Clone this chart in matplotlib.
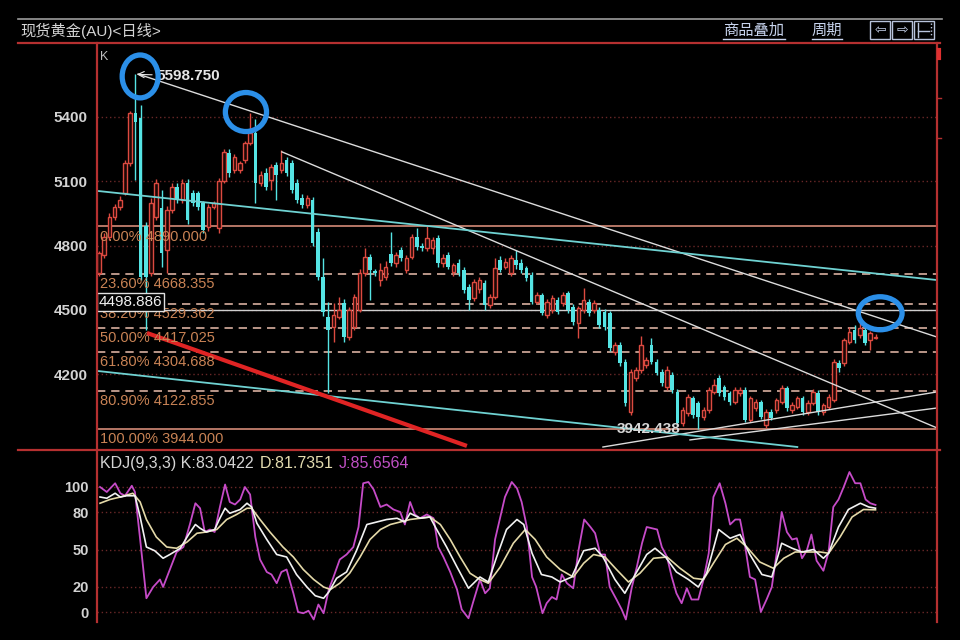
import numpy as np
import matplotlib.pyplot as plt
from matplotlib.lines import Line2D
from matplotlib.patches import Ellipse, Rectangle

plt.rcParams['font.family'] = ['Liberation Sans', 'Noto Sans CJK SC', 'DejaVu Sans']

#==============================================================================
# daily candles of spot gold
#==============================================================================
opens = [4672, 4756, 4840, 4933, 4980, 5045, 5185, 5419, 5395, 4890,
         4672, 4933, 4975, 4779, 4966, 5073, 5013, 5092, 5045, 5045,
         4999, 4887, 4980, 4880, 5100, 5232, 5153, 5153, 5199, 5279,
         5325, 5092, 5139, 5106, 5176, 5153, 5199, 5185, 5092, 5022,
         4989, 5013, 4863, 4653, 4467, 4420, 4467, 4532, 4373, 4420,
         4499, 4672, 4747, 4680, 4639, 4653, 4760, 4719, 4779, 4686,
         4747, 4840, 4800, 4789, 4789, 4835, 4719, 4756, 4677, 4719,
         4686, 4607, 4555, 4595, 4625, 4523, 4560, 4733, 4700, 4672,
         4733, 4719, 4695, 4663, 4537, 4569, 4476, 4499, 4546, 4532,
         4579, 4513, 4439, 4499, 4537, 4499, 4499, 4490, 4485, 4303,
         4336, 4257, 4023, 4182, 4219, 4243, 4336, 4257, 4210, 4140,
         4196, 4117, 3972, 4019, 4089, 4065, 4000, 4033, 4117, 4182,
         4140, 4112, 4070, 4112, 4126, 3986, 4042, 4070, 3963, 4023,
         4033, 4070, 4135, 4033, 4047, 4089, 4023, 4065, 4112, 4023,
         4047, 4079, 4252, 4252, 4350, 4406, 4383, 4406, 4360, 4370]
highs = [4775, 4860, 4950, 4995, 5030, 5200, 5430, 5598.75, 5456, 4910,
         5020, 5110, 5060, 4985, 5090, 5090, 5110, 5110, 5060, 5055,
         5010, 4995, 5010, 5115, 5250, 5250, 5225, 5195, 5290, 5419,
         5390, 5150, 5160, 5180, 5190, 5246, 5215, 5200, 5110, 5040,
         5035, 5025, 4880, 4742, 4537, 4530, 4560, 4550, 4515, 4575,
         4690, 4790, 4760, 4690, 4720, 4730, 4863, 4770, 4795, 4755,
         4855, 4880, 4810, 4890, 4840, 4850, 4760, 4770, 4720, 4735,
         4700, 4620, 4645, 4655, 4640, 4575, 4740, 4750, 4740, 4755,
         4779, 4735, 4705, 4675, 4585, 4580, 4550, 4570, 4560, 4585,
         4590, 4525, 4520, 4600, 4550, 4545, 4515, 4505, 4495, 4350,
         4350, 4270, 4225, 4235, 4380, 4280, 4370, 4270, 4225, 4240,
         4210, 4130, 4045, 4105, 4100, 4075, 4045, 4140, 4175, 4195,
         4150, 4120, 4140, 4140, 4140, 4100, 4085, 4080, 4035, 4035,
         4090, 4150, 4145, 4070, 4100, 4100, 4080, 4130, 4125, 4065,
         4105, 4270, 4265, 4370, 4420, 4430, 4440, 4420, 4400, 4385]
lows = [4660, 4740, 4825, 4920, 4965, 5035, 5170, 5106, 4640, 4405,
        4660, 4920, 4700, 4672, 4950, 5000, 5000, 4900, 4985, 4965,
        4860, 4870, 4970, 4860, 5090, 5120, 5140, 5140, 5185, 5270,
        4999, 5080, 5060, 5060, 5013, 5140, 5125, 5045, 5000, 4975,
        4975, 4800, 4640, 4470, 4112, 4350, 4455, 4350, 4360, 4405,
        4490, 4660, 4546, 4660, 4610, 4640, 4705, 4700, 4730, 4670,
        4735, 4780, 4775, 4775, 4760, 4700, 4700, 4690, 4660, 4660,
        4580, 4499, 4540, 4580, 4499, 4510, 4550, 4675, 4690, 4660,
        4690, 4670, 4635, 4525, 4525, 4475, 4460, 4485, 4480, 4520,
        4485, 4430, 4369, 4485, 4470, 4485, 4415, 4405, 4310, 4290,
        4240, 4050, 4010, 4170, 4205, 4230, 4245, 4195, 4145, 4125,
        4110, 3960, 3960, 4005, 3995, 3942.438, 3985, 4020, 4105, 4100,
        4080, 4055, 4060, 4100, 3975, 3975, 4030, 3990, 3950, 3985,
        4020, 4060, 4030, 4020, 4035, 4010, 4010, 4055, 4010, 4010,
        4035, 4070, 4210, 4240, 4340, 4345, 4370, 4335, 4313, 4365]
closes = [4765, 4840, 4933, 4980, 5013, 5185, 5419, 5377, 4653, 4655,
          4999, 5092, 4765, 4966, 5073, 5013, 5092, 4919, 4999, 4980,
          4873, 4980, 4999, 5100, 5235, 5139, 5213, 5185, 5279, 5325,
          5092, 5129, 5073, 5167, 5129, 5185, 5139, 5059, 5013, 4989,
          5020, 4812, 4653, 4490, 4406, 4476, 4499, 4373, 4499, 4560,
          4672, 4747, 4686, 4672, 4686, 4700, 4720, 4756, 4742, 4742,
          4840, 4793, 4789, 4835, 4826, 4719, 4742, 4700, 4709, 4672,
          4593, 4546, 4630, 4639, 4523, 4560, 4695, 4686, 4725, 4742,
          4709, 4686, 4649, 4537, 4569, 4485, 4537, 4555, 4490, 4569,
          4499, 4443, 4509, 4546, 4485, 4532, 4429, 4420, 4322, 4336,
          4252, 4065, 4210, 4219, 4336, 4266, 4257, 4205, 4159, 4219,
          4126, 3972, 4033, 4093, 4009, 4000, 4033, 4126, 4149, 4112,
          4093, 4070, 4126, 4126, 3986, 4089, 4070, 4000, 4023, 3995,
          4079, 4135, 4042, 4056, 4089, 4023, 4065, 4117, 4023, 4056,
          4093, 4257, 4229, 4359, 4397, 4359, 4415, 4345, 4390, 4375]

price_ticks = [4200, 4500, 4800, 5100, 5400]

# fibonacci retracement levels
fib_pct = ['0.00%', '23.60%', '38.20%', '50.00%', '61.80%', '80.90%', '100.00%']
fib_val = [4890.000, 4668.355, 4529.362, 4417.025, 4304.688, 4122.855, 3944.000]
price_line = 4498.886
peak_label = '5598.750'
low_label = '3942.438'

# hand-drawn trend lines: ((index, price), (index, price))
white_lines = [((7.5, 5600), (160.8, 4373)),
               ((35.1, 5237), (160.8, 3949)),
               ((96.7, 3860), (160.8, 4117)),
               ((113.4, 3893), (160.8, 4042))]
cyan_lines = [((-0.38, 5055), (160.8, 4639)),
              ((-0.38, 4215), (134.0, 3860))]
red_line = ((9.2, 4392), (70.6, 3865))

# blue marker circles: centre index, centre price, width (bars), height (price)
circles = [(7.9, 5589, 6.9, 200),
           (28.2, 5423, 7.9, 182),
           (149.9, 4484, 8.4, 154)]

# KDJ(9,3,3)
j_x = [0.2, 1.5, 3.1, 4.1, 5.0, 6.3, 6.9, 7.9, 9.1, 10.4, 11.7, 12.3, 13.6, 14.9,
       16.2, 17.5, 18.5, 19.4, 20.3, 21.3, 22.2, 23.2, 24.2, 25.1, 26.1, 27.1,
       28.0, 29.0, 30.0, 30.9, 32.2, 33.1, 34.1, 35.0, 36.0, 37.3, 38.2, 39.2,
       40.2, 41.2, 42.1, 43.1, 44.1, 45.0, 46.2, 47.5, 48.8, 49.8, 50.7, 51.7,
       52.7, 54.0, 55.2, 56.5, 57.8, 58.7, 59.7, 60.6, 61.6, 62.9, 64.2, 65.1,
       66.1, 67.4, 68.7, 69.6, 70.9, 71.8, 73.1, 74.1, 75.0, 76.0, 77.0, 77.9,
       79.2, 80.2, 81.1, 82.1, 83.1, 83.9, 85.1, 85.9, 86.9, 87.8, 88.8, 89.8,
       91.0, 92.0, 93.1, 94.3, 95.2, 96.2, 97.1, 98.0, 99.3, 100.3, 101.1,
       102.2, 103.2, 104.2, 105.1, 106.1, 107.1, 108.0, 109.0, 109.9, 110.8,
       111.8, 112.8, 113.7, 115.0, 116.0, 117.0, 117.9, 119.1, 120.2, 121.1,
       122.1, 123.0, 123.9, 124.9, 125.9, 127.0, 128.1, 129.1, 130.1, 131.0,
       132.0, 133.0, 133.9, 134.9, 135.8, 136.7, 137.7, 139.0, 140.0, 140.9,
       141.9, 142.9, 144.0, 145.1, 146.1, 147.1, 148.0, 149.0]
j_v = [100, 96, 103, 95, 93, 101, 96, 58, 11, 20, 26, 20, 34, 48,
       52, 71, 87, 83, 64, 66, 64, 84, 102, 88, 86, 90,
       100, 94, 60, 42, 32, 30, 23, 32, 34, 15, 0, -1,
       1, -6, 6, -1, 18, 28, 42, 46, 52, 68, 103, 104,
       98, 84, 86, 82, 80, 70, 88, 78, 75, 78, 75, 52,
       44, 32, 18, 2, -5, 8, 26, 15, 19, 58, 76, 92,
       104, 99, 88, 68, 28, 20, -1, 7, 12, 10, 30, 23,
       19, 49, 74, 68, 63, 46, 46, 20, 10, 2, -6,
       19, 36, 55, 68, 67, 66, 52, 44, 28, 15,
       7, 19, 10, 10, 26, 47, 92, 103, 87, 70,
       74, 74, 55, 28, 26, 0, 10, 20, 49, 80,
       64, 58, 59, 43, 49, 62, 41, 33, 48, 84,
       90, 100, 112, 103, 103, 90, 87, 85.6564]
k_x = [0.2, 1.5, 3.1, 4.1, 5.3, 6.9, 7.9, 9.1, 10.7, 12.3, 13.6, 15.6, 17.2,
       18.5, 19.4, 20.6, 22.2, 23.2, 24.2, 25.1, 27.1, 28.4, 29.3, 30.3, 32.2,
       34.1, 36.0, 37.9, 39.9, 41.5, 43.1, 44.1, 45.6, 47.5, 49.4, 51.4, 53.3,
       55.2, 57.2, 58.7, 59.7, 61.6, 63.5, 64.8, 66.7, 68.7, 70.9, 73.1, 74.7,
       76.3, 78.2, 80.2, 81.5, 83.1, 84.9, 86.9, 88.5, 90.7, 93.0, 95.2, 96.7,
       99.0, 100.9, 102.9, 105.1, 106.7, 108.7, 110.8, 113.1, 115.0, 116.6,
       118.9, 121.1, 123.0, 124.9, 127.2, 129.1, 131.0, 133.0, 134.9, 137.1,
       139.0, 140.0, 141.9, 143.8, 146.1, 147.7, 149.0]
k_v = [92, 91, 95, 92, 93, 93, 76, 52, 49, 43, 46, 51, 62,
       70, 67, 64, 66, 75, 83, 79, 82, 87, 84, 71, 58,
       46, 44, 30, 20, 13, 11, 16, 27, 32, 49, 70, 72,
       74, 75, 72, 79, 75, 76, 66, 52, 36, 19, 28, 24,
       44, 66, 74, 70, 47, 30, 28, 24, 28, 49, 51, 44,
       26, 15, 30, 46, 51, 44, 32, 26, 20, 31,
       66, 59, 62, 46, 30, 28, 55, 51, 48, 50,
       43, 47, 68, 82, 87, 84, 83.0422]
d_x = [0.2, 2.1, 4.1, 6.5, 7.9, 9.1, 11.0, 13.0, 14.9, 16.9, 18.8, 20.6, 22.6,
       24.5, 26.4, 28.4, 29.3, 30.9, 32.8, 35.3, 37.3, 39.2, 41.2, 43.1, 44.4,
       46.2, 48.1, 50.1, 52.0, 54.0, 55.9, 57.8, 59.7, 61.6, 63.5, 65.5, 67.4,
       69.3, 71.2, 73.1, 74.7, 77.0, 79.5, 81.8, 83.7, 85.9, 88.5, 91.0, 93.0,
       94.9, 97.1, 99.3, 101.6, 103.8, 106.4, 109.0, 111.5, 114.1, 116.0, 117.9,
       120.2, 122.4, 124.3, 126.8, 129.4, 131.4, 133.6, 136.1, 138.4, 140.0,
       142.2, 144.5, 146.7, 149.0]
d_v = [87, 90, 92, 95, 88, 74, 60, 52, 51, 56, 63, 64, 66,
       74, 78, 83, 83, 74, 64, 52, 44, 34, 26, 20, 18,
       23, 31, 44, 58, 66, 70, 72, 74, 75, 76, 70, 58,
       44, 31, 26, 23, 36, 55, 66, 58, 44, 34, 28, 39,
       46, 44, 34, 24, 31, 43, 44, 35, 27, 26, 39,
       54, 59, 52, 40, 35, 43, 48, 48, 48, 47,
       60, 76, 82, 81.7351]
kdj_ticks = [0, 20, 50, 80, 100]

#==============================================================================
# colours
#==============================================================================
RED = '#dc4a40'
CYAN = '#55e4e4'
FRAME = '#b53030'
GRID = '#6a2828'
FIB_LINE = '#d9b0a0'
FIB_TEXT = '#c98355'
LABEL = '#d2d2d2'

W, H = 960, 640


def fx(px):
    return px / W


def fy(py):
    return 1 - py / H


fig = plt.figure(figsize=(9.6, 6.4), dpi=100, facecolor='black')

ax = fig.add_axes([fx(97), fy(450), fx(937) - fx(97), fy(43) - fy(450)])
ax2 = fig.add_axes([fx(97), fy(622), fx(937) - fx(97), fy(450) - fy(622)])

for a in (ax, ax2):
    a.set_facecolor('black')
    a.set_xlim(-0.38, 160.8)
    for s in a.spines.values():
        s.set_visible(False)
    a.set_xticks([])
    a.tick_params(axis='y', length=0, labelcolor=LABEL)

ax.set_ylim(3846, 5745)
ax2.set_ylim(-8, 129.6)

#------------------------------------------------------------------ main panel
ax.set_yticks(price_ticks)
ax.set_yticklabels([str(v) for v in price_ticks], fontsize=11, fontweight='bold')
ax.tick_params(axis='y', pad=7)
for v in price_ticks:
    ax.axhline(v, color=GRID, lw=1, ls=(0, (1, 2)), zorder=1)

# fibonacci lines and labels
for i, (p, v) in enumerate(zip(fib_pct, fib_val)):
    if i == 0 or i == len(fib_val) - 1:
        ax.axhline(v, color='#c4806e', lw=1.3, zorder=1)
    else:
        ax.axhline(v, color=FIB_LINE, lw=1.2, ls=(0, (5, 3.5)), zorder=1)
    ax.annotate('%s %.3f' % (p, v), xy=(0.1, v), xytext=(0, -2.5),
                textcoords='offset points', ha='left', va='top',
                fontsize=10.5, color=FIB_TEXT, zorder=5)

ax.axhline(price_line, color='#cfcfcf', lw=1, zorder=1)
ax.annotate('%.3f' % price_line, xy=(-0.38, price_line), xytext=(1, 1),
            textcoords='offset points', ha='left', va='bottom',
            fontsize=11, color='#f0f0f0', zorder=8,
            bbox=dict(boxstyle='square,pad=0.12', fc='black', ec='#e0e0e0', lw=1))

# candles
x = np.arange(len(opens))
o = np.array(opens, float)
c = np.array(closes, float)
up = c >= o
wick_col = [RED if u else CYAN for u in up]
ax.vlines(x, lows, highs, colors=wick_col, lw=1, zorder=2)
body = np.maximum(np.abs(c - o), 4)
bottom = np.minimum(o, c)
ax.bar(x[up], body[up], bottom=bottom[up], width=0.7,
       facecolor='#1c0605', edgecolor=RED, lw=1, zorder=3)
ax.bar(x[~up], body[~up], bottom=bottom[~up], width=0.7,
       color=CYAN, lw=0, zorder=3)

# trend lines
for (x0, y0), (x1, y1) in white_lines:
    ax.plot([x0, x1], [y0, y1], color='#dcdcdc', lw=1, zorder=4)
for (x0, y0), (x1, y1) in cyan_lines:
    ax.plot([x0, x1], [y0, y1], color='#6fd2d2', lw=1.3, zorder=4)
ax.plot([red_line[0][0], red_line[1][0]], [red_line[0][1], red_line[1][1]],
        color='#e02424', lw=3, zorder=4, solid_capstyle='butt')

# extremes
peak_i = int(np.argmax(highs))
low_i = int(np.argmin(lows))
ax.annotate(peak_label, xy=(peak_i, highs[peak_i]), xytext=(15, -1),
            textcoords='offset points', ha='left', va='center',
            fontsize=11, fontweight='bold', color='#e6e6e6', zorder=7,
            arrowprops=dict(arrowstyle='->', color='#e6e6e6', lw=0.8,
                            shrinkA=1, shrinkB=1))
ax.annotate(low_label, xy=(low_i, lows[low_i]), xytext=(-13, 0),
            textcoords='offset points', ha='right', va='center',
            fontsize=11, fontweight='bold', color='#d8d8d8', zorder=7)

for cx, cy, w, h in circles:
    ax.add_patch(Ellipse((cx, cy), w, h, fill=False, ec='#2b8fe8', lw=3.8, zorder=9))

ax.text(0.004, 0.965, 'K', transform=ax.transAxes, color='#bdbdbd',
        fontsize=9, va='center', ha='left')

#------------------------------------------------------------------ KDJ panel
ax2.set_yticks(kdj_ticks)
ax2.set_yticklabels([str(v) for v in kdj_ticks], fontsize=10.5, fontweight='bold')
ax2.tick_params(axis='y', pad=6)
for v in kdj_ticks:
    ax2.axhline(v, color=GRID, lw=1, ls=(0, (1, 2)), zorder=1)

ax2.plot(j_x, j_v, color='#c64bc8', lw=1.3, zorder=3)
ax2.plot(d_x, d_v, color='#e4d9a8', lw=1.2, zorder=4)
ax2.plot(k_x, k_v, color='#f2f2f2', lw=1.2, zorder=5)

t1 = ax2.text(0.004, 0.919, 'KDJ(9,3,3) K:%.4f' % k_v[-1], transform=ax2.transAxes,
              fontsize=11.5, color='#d4d4d4', ha='left', va='center')
t2 = ax2.annotate('D:%.4f' % d_v[-1], xy=(1, 0.5), xycoords=t1, xytext=(4, 0),
                  textcoords='offset points', fontsize=11.5, color='#e4dcb0',
                  ha='left', va='center')
ax2.annotate('J:%.4f' % j_v[-1], xy=(1, 0.5), xycoords=t2, xytext=(4, 0),
             textcoords='offset points', fontsize=11.5, color='#c050c4',
             ha='left', va='center')

#------------------------------------------------------------------ frame
fig.add_artist(Line2D([fx(18), fx(942)], [fy(19), fy(19)], color='#9c9c9c', lw=1.2))
for py in (43, 450):
    fig.add_artist(Line2D([fx(18), fx(940)], [fy(py), fy(py)], color=FRAME, lw=1.6))
for px in (97, 937):
    fig.add_artist(Line2D([fx(px), fx(px)], [fy(43), fy(622)], color=FRAME, lw=1.6))
for py in (98, 138):
    fig.add_artist(Line2D([fx(937), fx(941)], [fy(py), fy(py)], color=FRAME, lw=1))
fig.add_artist(Line2D([fx(939), fx(939)], [fy(50), fy(58)], color='#e03030', lw=3))

fig.text(fx(20), fy(31), '现货黄金(AU)<日线>', color='#d4d4d4', fontsize=11,
         ha='left', va='center')
fig.text(fx(723), fy(31), '商品叠加', color='#c8d4ee', fontsize=11, ha='left', va='center')
fig.text(fx(812), fy(31), '周期', color='#c8d4ee', fontsize=11, ha='left', va='center')
for x0, x1 in ((723, 785), (812, 842)):
    fig.add_artist(Line2D([fx(x0), fx(x1)], [fy(39), fy(39)], color='#c8d4ee', lw=1))
for x0, sym in ((870, '⇦'), (892, '⇨'), (914, '')):
    fig.add_artist(Rectangle((fx(x0), fy(39)), fx(20), 18 / H, fill=False,
                             ec='#b8c4dc', lw=1, transform=fig.transFigure))
    if sym:
        fig.text(fx(x0 + 10), fy(30), sym, color='#c8d4ee', fontsize=10,
                 ha='center', va='center', family=['DejaVu Sans'])
fig.add_artist(Line2D([fx(918), fx(918)], [fy(23), fy(37)], color='#b8c4dc', lw=1))
fig.add_artist(Line2D([fx(918), fx(929)], [fy(31), fy(31)], color='#b8c4dc', lw=1))
fig.add_artist(Line2D([fx(931), fx(931)], [fy(23), fy(37)], color='#b8c4dc', lw=1,
                      ls=(0, (1, 1.5))))

fig.savefig('out.png', dpi=100, facecolor='black')
